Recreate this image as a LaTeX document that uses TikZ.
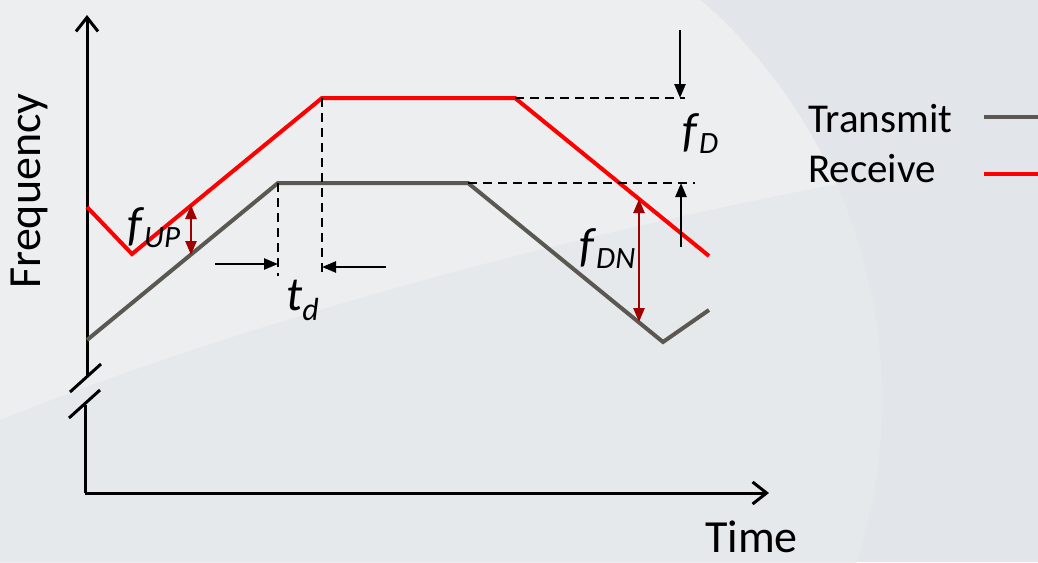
\documentclass[tikz,border=0pt]{standalone}
\usepackage{fontspec}
\setmainfont{Carlito}
\usetikzlibrary{arrows.meta}
\definecolor{bgc}{RGB}{226,230,234}
\definecolor{moonc}{RGB}{236,238,240}
\definecolor{txline}{RGB}{90,88,80}
\definecolor{rxline}{RGB}{255,0,0}
\definecolor{dred}{RGB}{160,0,0}
% #1 sub size, #2 drop, #3 main, #4 sub
\newcommand\sublbl[4]{\textit{#3}\raisebox{-#2pt}{\fontsize{#1}{#1}\selectfont\textit{#4}}}
\tikzset{
  axisline/.style={line width=3pt, black, -{Straight Barb[length=14pt,width=22pt,line width=3pt]}},
  plain/.style={line width=3pt, black},
  txsig/.style={line width=4pt, txline, line join=miter},
  rxsig/.style={line width=4pt, rxline, line join=miter},
  dashline/.style={line width=2.5pt, black, dash pattern=on 9pt off 6pt},
  marker/.style={line width=2.5pt, black, -{Triangle[length=14pt,width=11pt]}},
  dmarker/.style={line width=2.5pt, dred, {Triangle[length=14pt,width=11pt]}-{Triangle[length=14pt,width=11pt]}},
  axlbl/.style={inner sep=0pt, font=\fontsize{46}{48}\selectfont},
  leglbl/.style={inner sep=0pt, font=\fontsize{41}{44}\selectfont},
  mathlbl/.style={inner sep=0pt, font=\fontsize{48}{50}\selectfont},
}
\begin{document}
\begin{tikzpicture}[x=1pt,y=-1pt]
\useasboundingbox (0,0) rectangle (1038,562);
\begin{scope}
\clip (0,0) rectangle (1038,562);
\fill[bgc] (0,0) rectangle (1038,562);
\fill[moonc] (350,400) circle (532);
\fill[bgc,opacity=0.6] (0,562) -- (0,420) .. controls (300,300) and (700,200) .. (1038,150) -- (1038,562) -- cycle;
\end{scope}

% axes
\coordinate (ytop) at (87,15);
\coordinate (ybrk1) at (87,377);
\coordinate (ybrk2) at (85,405);
\coordinate (origin) at (85,493);
\coordinate (xend) at (769,493);
\draw[axisline] (ybrk1) -- (ytop);
\draw[plain] (origin) -- (ybrk2);
\draw[axisline] (origin) -- (xend);
\coordinate (s1a) at (70,392); \coordinate (s1b) at (101,364);
\coordinate (s2a) at (69,418); \coordinate (s2b) at (100,390);
\draw[plain] (s1a) -- (s1b);
\draw[plain] (s2a) -- (s2b);

% transmit
\coordinate (t0) at (87,340);
\coordinate (t1) at (278,183);
\coordinate (t2) at (468,183);
\coordinate (t3) at (663,342);
\coordinate (t4) at (709,310);
\draw[txsig] (t0) -- (t1) -- (t2) -- (t3) -- (t4);

% receive
\coordinate (r0) at (87,207);
\coordinate (r1) at (132,254);
\coordinate (r2) at (322,98);
\coordinate (r3) at (515,98);
\coordinate (r4) at (709,256);
\draw[rxsig] (r0) -- (r1) -- (r2) -- (r3) -- (r4);

% dashed guides
\coordinate (d1) at (278,276);
\coordinate (d2) at (322,277);
\coordinate (d3) at (685,98);
\coordinate (d4) at (695,183);
\draw[dashline] (t1) -- (d1);
\draw[dashline] (r2) -- (d2);
\draw[dashline] (r3) -- (d3);
\draw[dashline] (t2) -- (d4);

% t_d markers
\coordinate (ta) at (215,264); \coordinate (tb) at (278,264);
\coordinate (tc) at (386,267); \coordinate (td) at (322,267);
\draw[marker] (ta) -- (tb);
\draw[marker] (tc) -- (td);

% f_D markers
\coordinate (fa) at (680,30); \coordinate (fb) at (680,98);
\coordinate (fc) at (681,247); \coordinate (fd) at (681,183);
\draw[marker] (fa) -- (fb);
\draw[marker] (fc) -- (fd);

% f_UP and f_DN
\coordinate (ua) at (191,205); \coordinate (ub) at (191,255);
\draw[dmarker] (ua) -- (ub);
\coordinate (na) at (639,199); \coordinate (nb) at (639,322);
\draw[dmarker] (na) -- (nb);

% labels
\node[mathlbl, anchor=base west] (lup) at (127,240) {\sublbl{31}{7}{f}{UP}};
\node[mathlbl, anchor=base west] (ld) at (682,146) {\sublbl{31}{7}{f}{D}};
\node[mathlbl, anchor=base west] (ldn) at (579,261) {\sublbl{31}{7}{f}{DN}};
\node[mathlbl, anchor=base west] (ltd) at (286,310) {\sublbl{32}{10}{t}{d}};

\node[axlbl, rotate=90, anchor=base] (freq) at (40,191) {Frequency};
\node[axlbl, anchor=base west] (time) at (705,552) {Time};

% legend
\node[leglbl, anchor=base west] (ltx) at (808,132) {Transmit};
\node[leglbl, anchor=base west] (lrx) at (808,182) {Receive};
\coordinate (lg1) at (984,117); \coordinate (lg2) at (1038,117);
\coordinate (lg3) at (984,174); \coordinate (lg4) at (1038,174);
\draw[txsig] (lg1) -- (lg2);
\draw[rxsig] (lg3) -- (lg4);
\end{tikzpicture}
\end{document}
